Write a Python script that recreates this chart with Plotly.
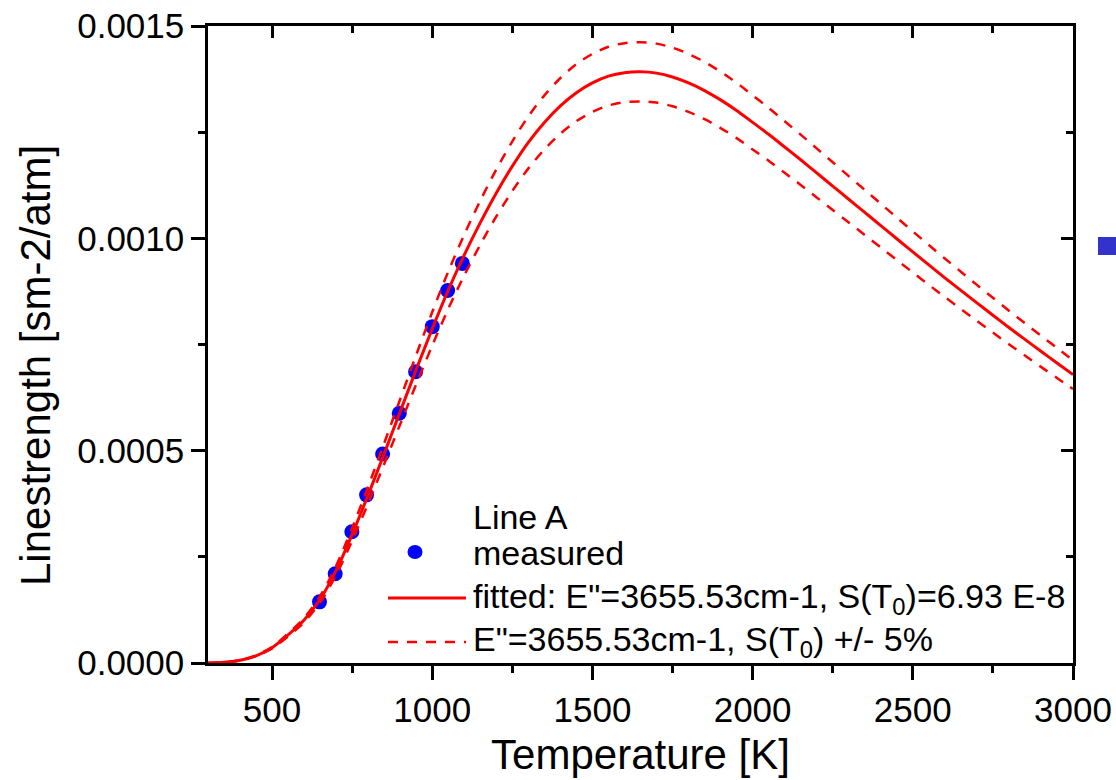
import plotly.graph_objects as go

# ---------------- data ----------------
T_meas = [648, 697, 749, 795, 845, 897, 948, 1000, 1048, 1094]
S_meas = [144e-6, 210e-6, 309e-6, 396e-6, 492e-6,
          588e-6, 686e-6, 792e-6, 877e-6, 941e-6]

T_fit = [300, 350, 400, 450, 500, 550, 600, 650, 700, 750, 800, 850, 900,
         950, 1000, 1050, 1100, 1150, 1200, 1250, 1300, 1350, 1400, 1450,
         1500, 1550, 1600, 1650, 1700, 1750, 1800, 1850, 1900, 1950, 2000,
         2050, 2100, 2150, 2200, 2250, 2300, 2350, 2400, 2450, 2500, 2550,
         2600, 2650, 2700, 2750, 2800, 2850, 2900, 2950, 3000]
S_fit = [0.0, 1.5e-6, 6.5e-6, 17e-6, 36e-6, 66e-6, 101e-6, 150e-6, 218e-6,
         303e-6, 396e-6, 493e-6, 592e-6, 691e-6, 787e-6, 878e-6, 961e-6,
         1037e-6, 1107e-6, 1170e-6, 1226e-6, 1273e-6, 1312e-6, 1343e-6,
         1366e-6, 1382e-6, 1390e-6, 1392e-6, 1389e-6, 1380e-6, 1366e-6,
         1348e-6, 1326e-6, 1301e-6, 1273e-6, 1245e-6, 1215e-6, 1185e-6,
         1154e-6, 1123e-6, 1092e-6, 1061e-6, 1030e-6, 999e-6, 968e-6,
         937.5e-6, 907e-6, 877.5e-6, 848e-6, 819e-6, 790e-6, 762e-6,
         734e-6, 706.5e-6, 679e-6]
S_hi = [0.0, 1.6e-6, 6.8e-6, 17.9e-6, 37.8e-6, 69.3e-6, 106.1e-6, 157.5e-6,
        228.9e-6, 318.2e-6, 415.8e-6, 517.7e-6, 621.6e-6, 725.6e-6,
        826.4e-6, 921.9e-6, 1009.1e-6, 1088.9e-6, 1162.4e-6, 1228.5e-6,
        1287.3e-6, 1336.7e-6, 1377.6e-6, 1410.2e-6, 1434.3e-6, 1451.1e-6,
        1459.5e-6, 1461.6e-6, 1458.5e-6, 1449.0e-6, 1434.3e-6, 1415.4e-6,
        1392.3e-6, 1366.1e-6, 1336.7e-6, 1307.3e-6, 1275.8e-6, 1244.3e-6,
        1211.7e-6, 1179.2e-6, 1146.6e-6, 1114.1e-6, 1081.5e-6, 1049.0e-6,
        1016.4e-6, 984.4e-6, 952.4e-6, 921.4e-6, 890.4e-6, 860.0e-6,
        829.5e-6, 800.1e-6, 770.7e-6, 741.8e-6, 713.0e-6]
S_lo = [0.0, 1.4e-6, 6.2e-6, 16.2e-6, 34.2e-6, 62.7e-6, 96.0e-6, 142.5e-6,
        207.1e-6, 287.9e-6, 376.2e-6, 468.4e-6, 562.4e-6, 656.5e-6,
        747.7e-6, 834.1e-6, 913.0e-6, 985.2e-6, 1051.7e-6, 1111.5e-6,
        1164.7e-6, 1209.4e-6, 1246.4e-6, 1275.9e-6, 1297.7e-6, 1312.9e-6,
        1320.5e-6, 1322.4e-6, 1319.6e-6, 1311.0e-6, 1297.7e-6, 1280.6e-6,
        1259.7e-6, 1236.0e-6, 1209.4e-6, 1182.8e-6, 1154.3e-6, 1125.8e-6,
        1096.3e-6, 1066.9e-6, 1037.4e-6, 1008.0e-6, 978.5e-6, 949.1e-6,
        919.6e-6, 890.6e-6, 861.7e-6, 833.6e-6, 805.6e-6, 778.1e-6,
        750.5e-6, 723.9e-6, 697.3e-6, 671.2e-6, 645.1e-6]

x_major = [500, 1000, 1500, 2000, 2500, 3000]
x_minor = [750, 1250, 1750, 2250, 2750]
y_major = [0.0, 0.0005, 0.0010, 0.0015]
y_major_text = ["0.0000", "0.0005", "0.0010", "0.0015"]
y_minor = [0.00025, 0.00075, 0.00125]

x_title = "Temperature [K]"
y_title = "Linestrength [sm-2/atm]"
legend_title = "Line A"
legend_labels = ["measured",
                 "fitted: E\"=3655.53cm-1, S(T<sub>0</sub>)=6.93 E-8",
                 "E\"=3655.53cm-1, S(T<sub>0</sub>) +/- 5%"]

FONT = "Liberation Sans, Arial, sans-serif"
RED = "#ff0000"
BLUE = "#0000ff"
DASH = "10px,9px"

# ---------------- figure ----------------
fig = go.Figure()

fig.add_trace(go.Scatter(x=T_meas, y=S_meas, mode="markers",
                         marker=dict(color=BLUE, size=15, line=dict(width=0)),
                         name=legend_labels[0], showlegend=False))
fig.add_trace(go.Scatter(x=T_fit, y=S_hi, mode="lines",
                         line=dict(color=RED, width=2.5, dash=DASH,
                                   shape="spline", smoothing=0.8),
                         showlegend=False))
fig.add_trace(go.Scatter(x=T_fit, y=S_lo, mode="lines",
                         line=dict(color=RED, width=2.5, dash=DASH,
                                   shape="spline", smoothing=0.8),
                         showlegend=False))
fig.add_trace(go.Scatter(x=T_fit, y=S_fit, mode="lines",
                         line=dict(color=RED, width=3,
                                   shape="spline", smoothing=0.8),
                         name=legend_labels[1], showlegend=False))
# dummy trace for the mirror (top / right) axes
fig.add_trace(go.Scatter(x=[None], y=[None], xaxis="x2", yaxis="y2",
                         showlegend=False, hoverinfo="skip"))

W, H = 1116, 780
L, R, T, B = 208, 43, 26, 117
pw, ph = W - L - R, H - T - B


def px(xp):
    return (xp - L) / pw


def py(yp):
    return (H - B - yp) / ph


axis_common = dict(showgrid=False, zeroline=False, linecolor="black",
                   linewidth=2.5, tickcolor="black", tickwidth=2.5)

fig.update_layout(
    width=W, height=H,
    margin=dict(l=L, r=R, t=T, b=B, autoexpand=False),
    paper_bgcolor="white", plot_bgcolor="white",
    font=dict(family=FONT, color="black", size=34),
    showlegend=False,
    xaxis=dict(range=[300, 3000], tickvals=x_major, ticks="outside",
               ticklen=14, tickfont=dict(size=35),
               minor=dict(tickvals=x_minor, ticks="outside", ticklen=7,
                          tickwidth=2.5, tickcolor="black"),
               title=dict(text=x_title, font=dict(size=42), standoff=12),
               automargin=False, **axis_common),
    yaxis=dict(range=[0, 0.0015], tickvals=y_major, ticktext=y_major_text,
               ticks="outside", ticklen=14, tickfont=dict(size=35),
               minor=dict(tickvals=y_minor, ticks="outside", ticklen=7,
                          tickwidth=2.5, tickcolor="black"),
               automargin=False, **axis_common),
    xaxis2=dict(range=[300, 3000], overlaying="x", side="top", anchor="y2",
                tickvals=x_major, ticks="inside", ticklen=12,
                showticklabels=False,
                minor=dict(tickvals=x_minor, ticks="inside", ticklen=7,
                           tickwidth=2.5, tickcolor="black"),
                showline=True, **axis_common),
    yaxis2=dict(range=[0, 0.0015], overlaying="y", side="right", anchor="x2",
                tickvals=y_major, ticks="inside", ticklen=12,
                showticklabels=False,
                minor=dict(tickvals=y_minor, ticks="inside", ticklen=7,
                           tickwidth=2.5, tickcolor="black"),
                showline=True, **axis_common),
)

shapes = []
annotations = []
# y axis title (rotated text, slightly below the plot centre as in the reference)
annotations.append(dict(xref="paper", yref="paper", x=px(36), y=py(366),
                        xanchor="center", yanchor="middle", text=y_title,
                        textangle=-90, showarrow=False, font=dict(size=42)))

# ---------------- hand-placed legend ----------------
text_x = px(471)
annotations.append(dict(xref="paper", yref="paper", x=text_x, y=py(517),
                        xanchor="left", yanchor="middle", text=legend_title,
                        showarrow=False, font=dict(size=34)))
rows_y = [553, 598, 641]
for lbl, yy in zip(legend_labels, rows_y):
    annotations.append(dict(xref="paper", yref="paper", x=text_x, y=py(yy),
                            xanchor="left", yanchor="middle", text=lbl,
                            showarrow=False, font=dict(size=34)))
# marker sample
shapes.append(dict(type="circle", xref="paper", yref="paper",
                   x0=px(415 - 7.5), x1=px(415 + 7.5),
                   y0=py(552 + 7), y1=py(552 - 7),
                   fillcolor=BLUE, line=dict(width=0)))
# solid line sample
shapes.append(dict(type="line", xref="paper", yref="paper",
                   x0=px(388), x1=px(466), y0=py(598), y1=py(598),
                   line=dict(color=RED, width=3)))
# dashed line sample
shapes.append(dict(type="line", xref="paper", yref="paper",
                   x0=px(388), x1=px(466), y0=py(642), y1=py(642),
                   line=dict(color=RED, width=2.5, dash=DASH)))
# blue square at the right edge (part of a neighbouring legend)
shapes.append(dict(type="rect", xref="paper", yref="paper",
                   x0=px(1098), x1=px(1130), y0=py(255), y1=py(237),
                   fillcolor="#3333cc", line=dict(width=0)))

fig.update_layout(shapes=shapes, annotations=annotations)

fig.write_html("out.html")
